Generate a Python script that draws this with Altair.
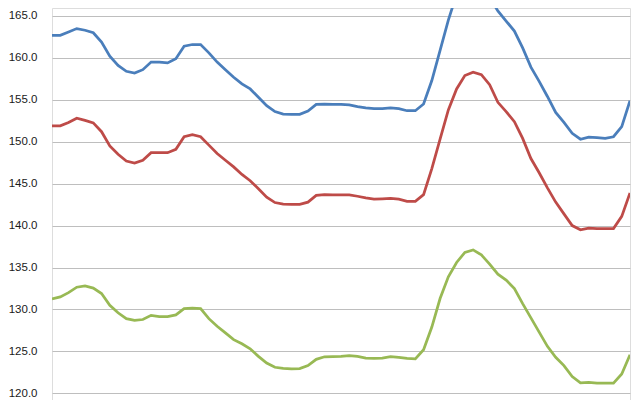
import altair as alt
import pandas as pd

series_names = ["Series A", "Series B", "Series C"]
colors = ["#4A7EBB", "#BE4B48", "#98B954"]

blue = [162.7, 162.7, 163.1, 163.5, 163.3, 163.0, 161.9, 160.2, 159.1, 158.4,
        158.2, 158.6, 159.5, 159.5, 159.4, 159.9, 161.4, 161.6, 161.6, 160.6,
        159.5, 158.6, 157.7, 156.9, 156.3, 155.3, 154.3, 153.6, 153.3, 153.27,
        153.27, 153.65, 154.45, 154.5, 154.45, 154.45, 154.4, 154.2, 154.05, 153.95,
        153.95, 154.05, 153.95, 153.7, 153.7, 154.5, 157.3, 160.9, 164.5, 167.6,
        168.7, 169.1, 168.8, 167.2, 165.6, 164.4, 163.2, 161.2, 158.9, 157.2,
        155.4, 153.5, 152.3, 151.0, 150.3, 150.55, 150.5, 150.4, 150.6, 151.8,
        154.9]

red = [151.9, 151.9, 152.3, 152.8, 152.55, 152.25, 151.2, 149.5, 148.5, 147.7,
       147.45, 147.8, 148.7, 148.7, 148.7, 149.1, 150.6, 150.85, 150.6, 149.6,
       148.6, 147.8, 147.0, 146.1, 145.35, 144.4, 143.4, 142.75, 142.55, 142.54,
       142.54, 142.8, 143.6, 143.7, 143.65, 143.65, 143.65, 143.5, 143.3, 143.15,
       143.2, 143.26, 143.15, 142.9, 142.9, 143.7, 146.8, 150.3, 153.8, 156.3,
       157.9, 158.3, 158.0, 156.8, 154.7, 153.6, 152.4, 150.4, 148.0, 146.3,
       144.5, 142.8, 141.4, 140.0, 139.5, 139.7, 139.65, 139.65, 139.65, 141.1,
       143.9]

green = [131.25, 131.5, 132.0, 132.65, 132.8, 132.55, 131.9, 130.5, 129.6, 128.9,
         128.7, 128.8, 129.3, 129.15, 129.15, 129.35, 130.1, 130.15, 130.1, 128.9,
         128.0, 127.2, 126.4, 125.9, 125.3, 124.4, 123.6, 123.1, 122.97, 122.92,
         122.95, 123.3, 124.05, 124.35, 124.37, 124.4, 124.48, 124.4, 124.2, 124.17,
         124.2, 124.37, 124.28, 124.15, 124.1, 125.2, 127.9, 131.3, 133.9, 135.6,
         136.8, 137.1, 136.5, 135.4, 134.2, 133.5, 132.5, 130.7, 129.0, 127.3,
         125.6, 124.3, 123.3, 122.0, 121.25, 121.3, 121.2, 121.2, 121.2, 122.3,
         124.6]

y_ticks = [120, 125, 130, 135, 140, 145, 150, 155, 160, 165]

rows = []
for name, vals in zip(series_names, [blue, red, green]):
    for i, v in enumerate(vals):
        rows.append({"idx": i, "value": v, "series": name})
df = pd.DataFrame(rows)

chart = alt.Chart(df).mark_line(clip=True, strokeWidth=2.75, interpolate="linear").encode(
    x=alt.X("idx:Q", axis=None, scale=alt.Scale(domain=[0, 70], nice=False, zero=False)),
    y=alt.Y(
        "value:Q",
        scale=alt.Scale(domain=[119.198, 165.954], nice=False, zero=False),
        axis=alt.Axis(
            values=y_ticks,
            format=".1f",
            title=None,
            domain=False,
            ticks=False,
            grid=True,
            gridColor="#BEBEBE",
            gridWidth=1,
            labelFont="Liberation Sans",
            labelFontSize=11.5,
            labelColor="#1a1a1a",
            labelPadding=15,
        ),
    ),
    color=alt.Color("series:N", scale=alt.Scale(domain=series_names, range=colors), legend=None),
    detail="series:N",
).properties(
    width=578,
    height=392,
    autosize=alt.AutoSizeParams(type="none"),
    padding={"left": 44, "top": 0, "right": 2, "bottom": 0},
).configure_view(stroke=None).configure(background="white")

chart.save("out.html", embed_options={"renderer": "svg", "actions": False})
